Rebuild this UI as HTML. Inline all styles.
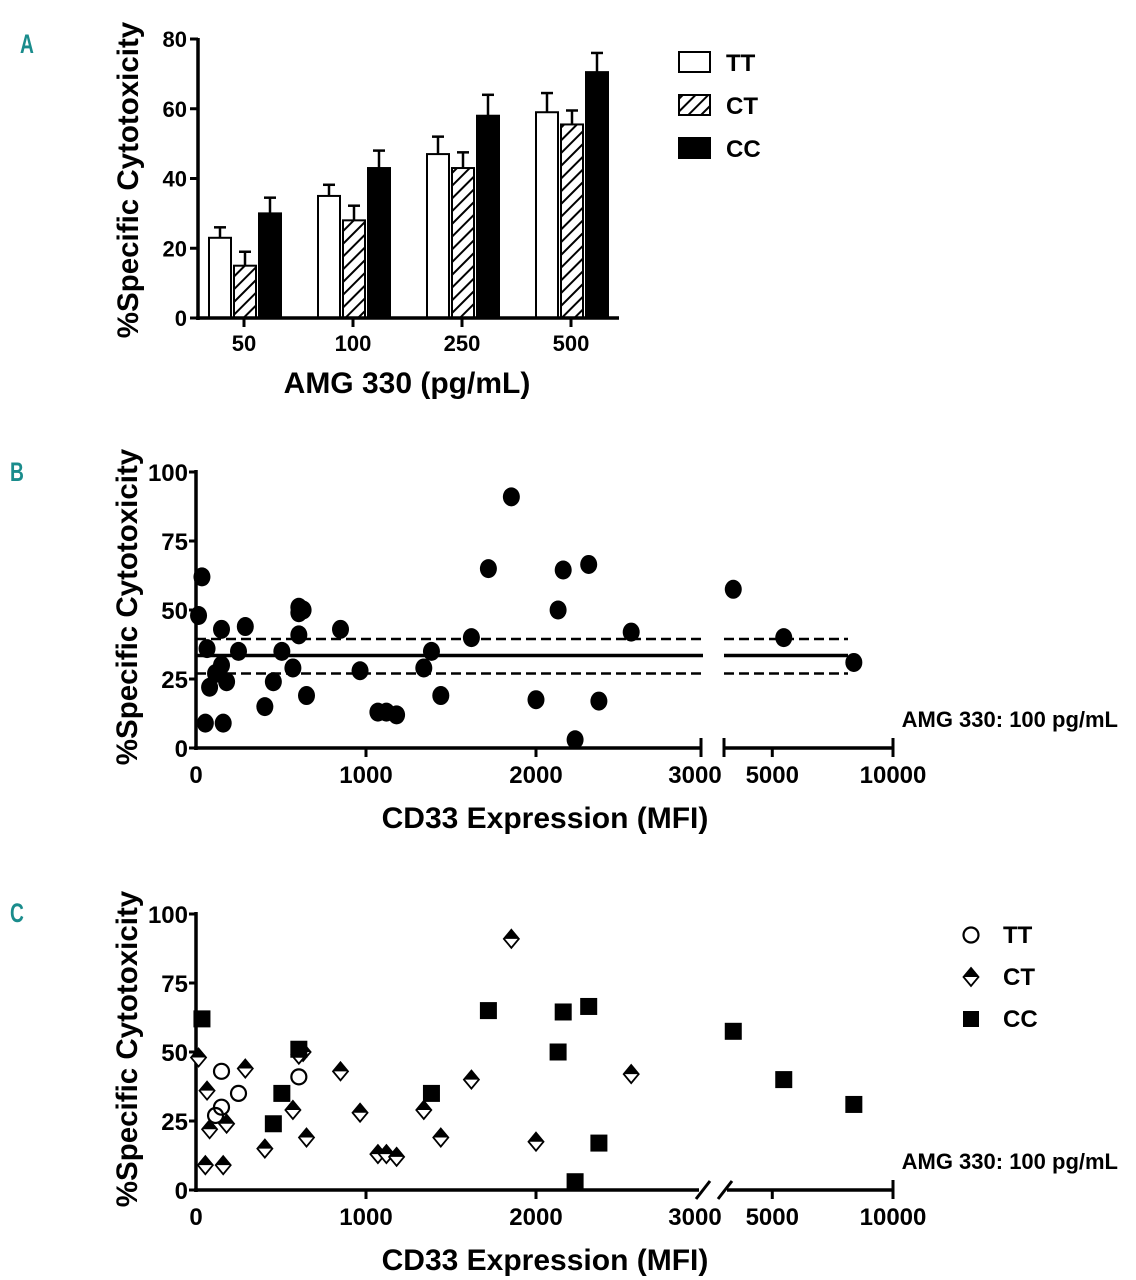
<!DOCTYPE html>
<html><head><meta charset="utf-8"><style>
body{margin:0;background:#fff;}
svg{display:block;}
text{font-family:"Liberation Sans Narrow","Liberation Sans",sans-serif;font-weight:bold;fill:#000;}
.w{font-family:"Liberation Sans",sans-serif;}
.lt{font-family:"Liberation Sans Narrow","Liberation Sans",sans-serif;fill:#1a8c8c;font-size:24px;}
</style></head><body>
<svg id="fig" width="1136" height="1280" viewBox="0 0 1136 1280" xmlns="http://www.w3.org/2000/svg">
<defs><pattern id="hatch" patternUnits="userSpaceOnUse" width="9" height="9" patternTransform="rotate(45)"><rect width="9" height="9" fill="#fff"/><line x1="0" y1="0" x2="0" y2="9" stroke="#000" stroke-width="4"/></pattern></defs>
<text class="lt" transform="translate(20,53) scale(0.8,1.1)">A</text>
<text class="lt" transform="translate(10,481) scale(0.8,1.1)">B</text>
<text class="lt" transform="translate(10,922) scale(0.8,1.1)">C</text>
<g id="pa"></g>
<g id="pb"></g>
<g id="pc"></g>
</svg>
<script>
// Panel A data
const doses=["50","100","250","500"];
const groupsA=["TT","CT","CC"];
const ttMean=[23,35,47,59], ttErr=[3,3.2,5,5.5];
const ctMean=[15,28,43,55.5], ctErr=[4,4.2,4.5,4];
const ccMean=[30,43,58,70.5], ccErr=[4.5,5,6,5.5];
const yTicksA=[0,20,40,60,80];
// Panel B/C data (CD33 MFI, % cytotoxicity)
const ttX=[150,115,150,250,605], ttY=[43,27,30,35,41];
const ctX=[15,65,55,80,160,180,290,405,570,650,630,850,965,1070,1120,1180,1340,1440,1620,1855,2000,2560,605], ctY=[48,36,9,22,9,24,44,15,29,19,50,43,28,13,13,12,29,19,40,91,17.5,42,49];
const ccX=[35,455,505,605,1385,1720,2130,2160,2230,2310,2370,3384,5475,8378], ccY=[62,24,35,51,35,65,50,64.5,3,66.5,17,57.5,40,31];
const meanLine=[33.5], ciLow=[27], ciHigh=[39.5];
const xTicksLo=[0,1000,2000,3000], xTicksHi=[5000,10000];
const yTicksB=[0,25,50,75,100];

const NS="http://www.w3.org/2000/svg";
function mk(p,tag,at,txt){const e=document.createElementNS(NS,tag);for(const k in at)e.setAttribute(k,at[k]);if(txt!==undefined)e.textContent=txt;p.appendChild(e);return e;}

// ---- Panel A
(function(){
const g=document.getElementById('pa');
const y=v=>318-v*(279/80);
const gx=i=>244+i*109;
const means=[ttMean,ctMean,ccMean], errs=[ttErr,ctErr,ccErr], fills=["#fff","url(#hatch)","#000"];
for(let s=0;s<3;s++)for(let i=0;i<doses.length;i++){
  const x=gx(i)-35+s*25, v=means[s][i], e=errs[s][i];
  let l=mk(g,'line',{x1:x+11,x2:x+11,y1:y(v),y2:y(v+e),stroke:'#000','stroke-width':2.5});
  
  l=mk(g,'line',{x1:x+5,x2:x+17,y1:y(v+e),y2:y(v+e),stroke:'#000','stroke-width':2.5});
  
  const r=mk(g,'rect',{x:x,y:y(v),width:22,height:y(0)-y(v),fill:fills[s],stroke:'#000','stroke-width':2});
  
  
}
mk(g,'line',{x1:198,x2:198,y1:38,y2:320,stroke:'#000','stroke-width':3.5});
mk(g,'line',{x1:196,x2:619,y1:318,y2:318,stroke:'#000','stroke-width':3.5});
yTicksA.forEach(t=>{mk(g,'line',{x1:190,x2:198,y1:y(t),y2:y(t),stroke:'#000','stroke-width':3});
  const tx=mk(g,'text',{x:187,y:y(t)+8,'text-anchor':'end','font-size':22},t);
  });
doses.forEach((d,i)=>{mk(g,'line',{x1:gx(i),x2:gx(i),y1:318,y2:327,stroke:'#000','stroke-width':3});
  const tx=mk(g,'text',{x:gx(i),y:351,'text-anchor':'middle','font-size':22},d);
  });
let t=mk(g,'text',{x:407,y:393,'text-anchor':'middle','font-size':30},'AMG 330 (pg/mL)');

t=mk(g,'text',{class:'w',transform:'translate(138,180) rotate(-90)','text-anchor':'middle','font-size':29.5},'%Specific Cytotoxicity');

groupsA.forEach((n,i)=>{const yy=52+i*43;
  const r=mk(g,'rect',{x:679,y:yy,width:31,height:20,fill:fills[i],stroke:'#000','stroke-width':2});
  
  const tx=mk(g,'text',{x:726,y:yy+19,'font-size':24},n);
  });
})();

// ---- Scatter panels
function xs(v){return v<=3000?196+v*0.17:724+(v-3000)*(169/7000);}
function scatter(gid,y0,mode){
const g=document.getElementById(gid);
const y=v=>y0-v*2.76;
mk(g,'line',{x1:196,x2:196,y1:y(100)-2,y2:y0+2,stroke:'#000','stroke-width':3.5});
if(mode==='b'){
 mk(g,'line',{x1:194,x2:701,y1:y0,y2:y0,stroke:'#000','stroke-width':3.5});
 mk(g,'line',{x1:701,x2:701,y1:y0-10,y2:y0+9,stroke:'#000','stroke-width':3});
 mk(g,'line',{x1:724,x2:724,y1:y0-10,y2:y0+9,stroke:'#000','stroke-width':3});
 mk(g,'line',{x1:724,x2:893,y1:y0,y2:y0,stroke:'#000','stroke-width':3.5});
}else{
 mk(g,'line',{x1:194,x2:699,y1:y0,y2:y0,stroke:'#000','stroke-width':3.5});
 mk(g,'line',{x1:696,x2:710,y1:y0+9,y2:y0-9,stroke:'#000','stroke-width':3});
 mk(g,'line',{x1:718,x2:732,y1:y0+9,y2:y0-9,stroke:'#000','stroke-width':3});
 mk(g,'line',{x1:727,x2:893,y1:y0,y2:y0,stroke:'#000','stroke-width':3.5});
}
yTicksB.forEach(t=>{mk(g,'line',{x1:189,x2:196,y1:y(t),y2:y(t),stroke:'#000','stroke-width':3});
 const tx=mk(g,'text',{x:188,y:y(t)+9,'text-anchor':'end','font-size':24},t);
 });
xTicksLo.concat(xTicksHi).forEach(v=>{let px=v===3000?701:xs(v);
 if(v!==0&&v!==3000&&v!==10000)mk(g,'line',{x1:px,x2:px,y1:y0,y2:y0+9,stroke:'#000','stroke-width':3});
 if(v===10000)mk(g,'line',{x1:893,x2:893,y1:y0-10,y2:y0+9,stroke:'#000','stroke-width':3});
 const lx=v===3000?695:(v===10000?893:px);
 const tx=mk(g,'text',{x:lx,y:y0+35,'text-anchor':'middle','font-size':24},v);
 });
let t=mk(g,'text',{x:545,y:y0+80,'text-anchor':'middle','font-size':30},'CD33 Expression (MFI)');

t=mk(g,'text',{class:'w',transform:`translate(137,${y0-141}) rotate(-90)`,'text-anchor':'middle','font-size':29.5},'%Specific Cytotoxicity');

t=mk(g,'text',{class:'w',x:1118,y:y0-21,'text-anchor':'end','font-size':22},'AMG 330: 100 pg/mL');

if(mode==='b'){
 const segs=[[196,703],[724,848]];
 [[meanLine[0],'none'],[ciLow[0],'10 5'],[ciHigh[0],'10 5']].forEach(([v,d],k)=>segs.forEach(s=>{
  const l=mk(g,'line',{x1:s[0],x2:s[1],y1:y(v),y2:y(v),stroke:'#000','stroke-width':k?2.5:3.5,'stroke-dasharray':d});
  }));
 const ax=ttX.concat(ctX,ccX), ay=ttY.concat(ctY,ccY);
 ax.forEach((v,i)=>{const c=mk(g,'ellipse',{cx:xs(v),cy:y(ay[i]),rx:8.5,ry:9.5,fill:'#000'});
  });
}else{
 ctX.forEach((v,i)=>drawDiamond(g,xs(v),y(ctY[i])));
 ccX.forEach((v,i)=>{const r=mk(g,'rect',{x:xs(v)-8.5,y:y(ccY[i])-8.5,width:17,height:17,fill:'#000'});
  });
 ttX.forEach((v,i)=>{const c=mk(g,'circle',{cx:xs(v),cy:y(ttY[i]),r:7.5,fill:'none',stroke:'#000','stroke-width':2.2});
  });
 let c=mk(g,'circle',{cx:971,cy:935,r:7.5,fill:'none',stroke:'#000','stroke-width':2.2});
 
 drawDiamond(g,971,977);
 c=mk(g,'rect',{x:963,y:1011,width:16,height:16,fill:'#000'});
 
 ['TT','CT','CC'].forEach((n,i)=>{const tx=mk(g,'text',{x:1003,y:943+i*42,'font-size':24},n);
  });
}
}
function drawDiamond(g,cx,cy){
 const gg=mk(g,'g',{});
 
 mk(gg,'polygon',{points:`${cx},${cy-9} ${cx+7.5},${cy} ${cx},${cy+9} ${cx-7.5},${cy}`,fill:'#fff',stroke:'#000','stroke-width':1.8});
 mk(gg,'polygon',{points:`${cx},${cy-9} ${cx+7.5},${cy} ${cx-7.5},${cy}`,fill:'#000'});
}
scatter('pb',748,'b');
scatter('pc',1190,'c');
</script>
</body></html>
